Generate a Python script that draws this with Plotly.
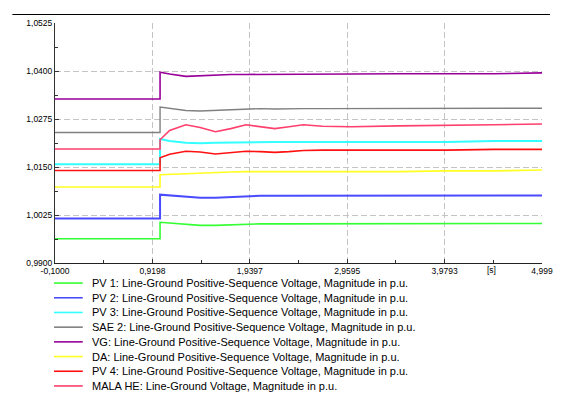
import plotly.graph_objects as go

# ---- data ----
time = [-0.1, 1.0, 1.0, 1.1, 1.27, 1.42, 1.58, 1.74, 1.9, 2.05, 2.2, 2.35, 2.5, 2.7, 3.0, 3.5, 4.0, 4.5, 4.999]

pv1 = [0.9963, 0.9963, 1.0006, 1.0004, 1.0000, 0.9998, 0.9998, 1.0000, 1.0001, 1.0002, 1.0002, 1.0002, 1.0002, 1.0002, 1.0002, 1.0003, 1.0003, 1.0003, 1.0003]
pv2 = [1.0016, 1.0016, 1.0078, 1.0076, 1.0072, 1.0070, 1.0070, 1.0072, 1.0074, 1.0075, 1.0075, 1.0075, 1.0075, 1.0076, 1.0076, 1.0076, 1.0076, 1.0076, 1.0076]
pv3 = [1.0157, 1.0157, 1.0223, 1.0218, 1.0213, 1.0212, 1.0213, 1.0214, 1.0215, 1.0215, 1.0215, 1.0215, 1.0215, 1.0215, 1.0215, 1.0215, 1.0215, 1.0218, 1.0218]
sae2 = [1.0240, 1.0240, 1.0306, 1.0302, 1.0297, 1.0296, 1.0298, 1.0300, 1.0302, 1.0302, 1.0301, 1.0302, 1.0302, 1.0302, 1.0302, 1.0302, 1.0303, 1.0303, 1.0303]
vg = [1.0327, 1.0327, 1.0397, 1.0392, 1.0386, 1.0388, 1.0390, 1.0391, 1.0391, 1.0391, 1.0391, 1.0391, 1.0392, 1.0392, 1.0392, 1.0393, 1.0393, 1.0393, 1.0395]
da = [1.0098, 1.0098, 1.0130, 1.0131, 1.0134, 1.0135, 1.0136, 1.0137, 1.0138, 1.0138, 1.0138, 1.0138, 1.0138, 1.0138, 1.0138, 1.0138, 1.0140, 1.0140, 1.0142]
pv4 = [1.0141, 1.0141, 1.0174, 1.0183, 1.0191, 1.0189, 1.0184, 1.0187, 1.0191, 1.0190, 1.0188, 1.0190, 1.0193, 1.0194, 1.0194, 1.0194, 1.0194, 1.0196, 1.0196]
mala = [1.0197, 1.0197, 1.0221, 1.0245, 1.0260, 1.0253, 1.0242, 1.0250, 1.0260, 1.0255, 1.0250, 1.0255, 1.0260, 1.0256, 1.0255, 1.0257, 1.0258, 1.0260, 1.0262]

names = [
    "PV 1: Line-Ground Positive-Sequence Voltage, Magnitude in p.u.",
    "PV 2: Line-Ground Positive-Sequence Voltage, Magnitude in p.u.",
    "PV 3: Line-Ground Positive-Sequence Voltage, Magnitude in p.u.",
    "SAE 2: Line-Ground Positive-Sequence Voltage, Magnitude in p.u.",
    "VG: Line-Ground Positive-Sequence Voltage, Magnitude in p.u.",
    "DA: Line-Ground Positive-Sequence Voltage, Magnitude in p.u.",
    "PV 4: Line-Ground Positive-Sequence Voltage, Magnitude in p.u.",
    "MALA HE: Line-Ground Voltage, Magnitude in p.u.",
]
series = [pv1, pv2, pv3, sae2, vg, da, pv4, mala]

x_ticks = [-0.1, 0.9198, 1.9397, 2.9595, 3.9793, 4.999]
x_labels = ["-0,1000", "0,9198", "1,9397", "2,9595", "3,9793", "4,999"]
y_ticks = [0.99, 1.0025, 1.015, 1.0275, 1.04, 1.0525]
y_labels = ["0,9900", "1,0025", "1,0150", "1,0275", "1,0400", "1,0525"]
x_unit = "[s]"

# ---- styling ----
colors = ["#33ff33", "#4a4aff", "#33ffff", "#808080", "#990099", "#ffff22", "#ff1111", "#ff3f6c"]
widths = [1.6, 2, 2, 1.4, 1.6, 1.6, 1.6, 1.6]
FONT = "Liberation Sans, Arial, sans-serif"

OFF = 8                      # page body margin
W, H = 563 - OFF, 398 - OFF
L, R, T, B = 55 - OFF, 17, 18 - OFF, 135
pw, ph = W - L - R, H - T - B

def px_x(x):
    return (x - OFF - L) / pw

def px_y(y):
    return (H - B - (y - OFF)) / ph

fig = go.Figure()
for name, vals, c, w in zip(names, series, colors, widths):
    fig.add_trace(go.Scatter(x=time, y=vals, mode="lines", name=name,
                             line=dict(color=c, width=w), showlegend=False))

minor_x = [(a + b) / 2 for a, b in zip(x_ticks[:-1], x_ticks[1:])]
minor_y = [(a + b) / 2 for a, b in zip(y_ticks[:-1], y_ticks[1:])]

grid = dict(showgrid=True, gridcolor="#c4c4c4", gridwidth=1, griddash="6px,3px")

fig.update_xaxes(range=[x_ticks[0], x_ticks[-1]], tickmode="array", tickvals=x_ticks,
                 ticktext=x_labels, ticks="inside", ticklen=4, tickcolor="#333",
                 showline=True, linecolor="#222", linewidth=1, zeroline=False,
                 tickfont=dict(family=FONT, size=8.5, color="#000"),
                 minor=dict(tickmode="array", tickvals=minor_x, ticks="inside",
                            ticklen=3, tickcolor="#333", showgrid=False),
                 **grid)
fig.update_yaxes(range=[y_ticks[0], y_ticks[-1]], tickmode="array", tickvals=y_ticks,
                 ticktext=y_labels, ticks="inside", ticklen=4, tickcolor="#333",
                 showline=True, linecolor="#333", linewidth=1, zeroline=False,
                 tickfont=dict(family=FONT, size=8.5, color="#000"),
                 minor=dict(tickmode="array", tickvals=minor_y, ticks="inside",
                            ticklen=3, tickcolor="#333", showgrid=False),
                 **grid)

shapes = [dict(type="line", xref="paper", yref="paper",
               x0=px_x(12), x1=px_x(554), y0=px_y(9.3), y1=px_y(9.3),
               line=dict(color="#000", width=1.2))]
annotations = [dict(text=x_unit, xref="paper", yref="paper", x=px_x(495), y=px_y(270.5),
                    xanchor="center", yanchor="middle", showarrow=False,
                    font=dict(family=FONT, size=8.5, color="#000"))]

# manual legend (compact spacing like the reference)
for i, (name, c) in enumerate(zip(names, colors)):
    yy = 283.5 + 15 * i
    shapes.append(dict(type="line", xref="paper", yref="paper",
                       x0=px_x(54), x1=px_x(83), y0=px_y(yy), y1=px_y(yy),
                       line=dict(color=c, width=1.6)))
    annotations.append(dict(text=name, xref="paper", yref="paper",
                            x=px_x(90), y=px_y(yy), xanchor="left", yanchor="middle",
                            showarrow=False,
                            font=dict(family=FONT, size=11, color="#000")))

fig.update_layout(width=W, height=H, margin=dict(l=L, r=R, t=T, b=B),
                  paper_bgcolor="white", plot_bgcolor="white",
                  shapes=shapes, annotations=annotations, showlegend=False)

fig.write_html("out.html")
